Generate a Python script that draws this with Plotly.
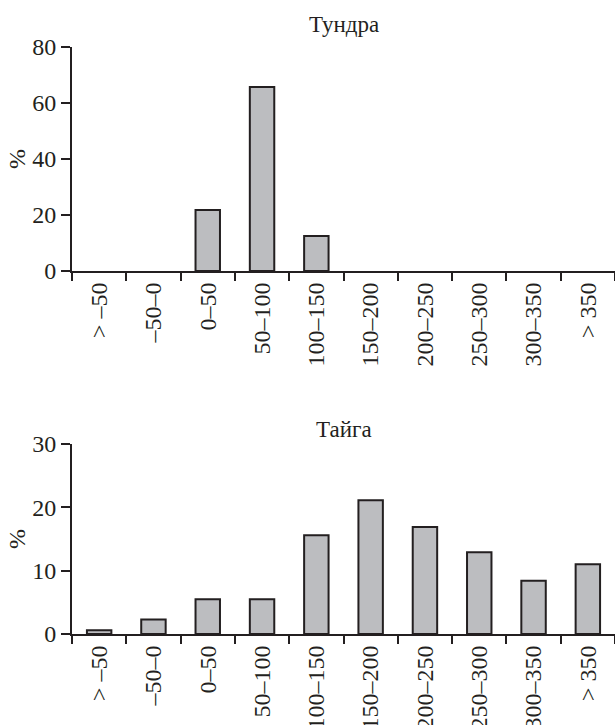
import plotly.graph_objects as go
from plotly.subplots import make_subplots

# Temperature-sum classes (tick labels) and share of sites, %
categories = ["> –50", "–50–0", "0–50", "50–100", "100–150",
              "150–200", "200–250", "250–300", "300–350", "> 350"]
tundra_pct = [0, 0, 21.8, 65.7, 12.5, 0, 0, 0, 0, 0]
taiga_pct = [0.6, 2.3, 5.5, 5.5, 15.6, 21.1, 16.9, 12.9, 8.4, 11.0]
panel_titles = ["Тундра", "Тайга"]
y_ticks_tundra = [0, 20, 40, 60, 80]
y_ticks_taiga = [0, 10, 20, 30]

FONT = "'Liberation Serif', 'Times New Roman', 'DejaVu Serif', serif"
INK = "#231f20"
FILL = "#bcbdc0"

W, H = 615, 725
ML, MR, MT, MB = 72, 0, 47, 91
plot_h = H - MT - MB

fig = make_subplots(rows=2, cols=1, vertical_spacing=0.1)

for row, vals in ((1, tundra_pct), (2, taiga_pct)):
    # empty classes get no outline so nothing is drawn for them
    outline = [2 if v > 0 else 0 for v in vals]
    fig.add_trace(
        go.Bar(x=categories, y=vals, width=0.45,
               marker=dict(color=FILL, line=dict(color=INK, width=outline)),
               showlegend=False, hoverinfo="x+y"),
        row=row, col=1)

# pixel rows of the two panels -> paper domains
top_px = (47, 271)
bot_px = (444, 634)
def dom(a, b):
    return [(H - MB - b) / plot_h, (H - MB - a) / plot_h]

xcommon = dict(type="category", range=[-0.5, 9.5], tickson="boundaries",
               ticks="outside", ticklen=8, tickwidth=2, tickcolor=INK,
               showline=True, linecolor=INK, linewidth=2, showgrid=False,
               tickangle=-90, tickfont=dict(family=FONT, size=24, color=INK),
               zeroline=False, automargin=False)
ycommon = dict(ticks="outside", ticklen=9, tickwidth=2, tickcolor=INK,
               showline=True, linecolor=INK, linewidth=2, showgrid=False,
               zeroline=False, tickfont=dict(family=FONT, size=24, color=INK),
               automargin=False,
               title=dict(text="%", font=dict(family=FONT, size=24, color=INK),
                          standoff=0))

fig.update_xaxes(**xcommon)
fig.update_yaxes(**ycommon)
fig.update_yaxes(range=[0, 80], tickvals=y_ticks_tundra, domain=dom(*top_px), row=1, col=1)
fig.update_yaxes(range=[0, 30], tickvals=y_ticks_taiga, domain=dom(*bot_px), row=2, col=1)

for txt, ypx in zip(panel_titles, (24, 429)):
    fig.add_annotation(text=txt, xref="paper", x=0.5, yref="paper",
                       y=(H - MB - ypx) / plot_h, xanchor="center", yanchor="middle",
                       showarrow=False, font=dict(family=FONT, size=23, color=INK))

fig.update_layout(width=W, height=H, margin=dict(l=ML, r=MR, t=MT, b=MB, autoexpand=False),
                  paper_bgcolor="white", plot_bgcolor="white",
                  font=dict(family=FONT, color=INK))

fig.write_html("out.html")
